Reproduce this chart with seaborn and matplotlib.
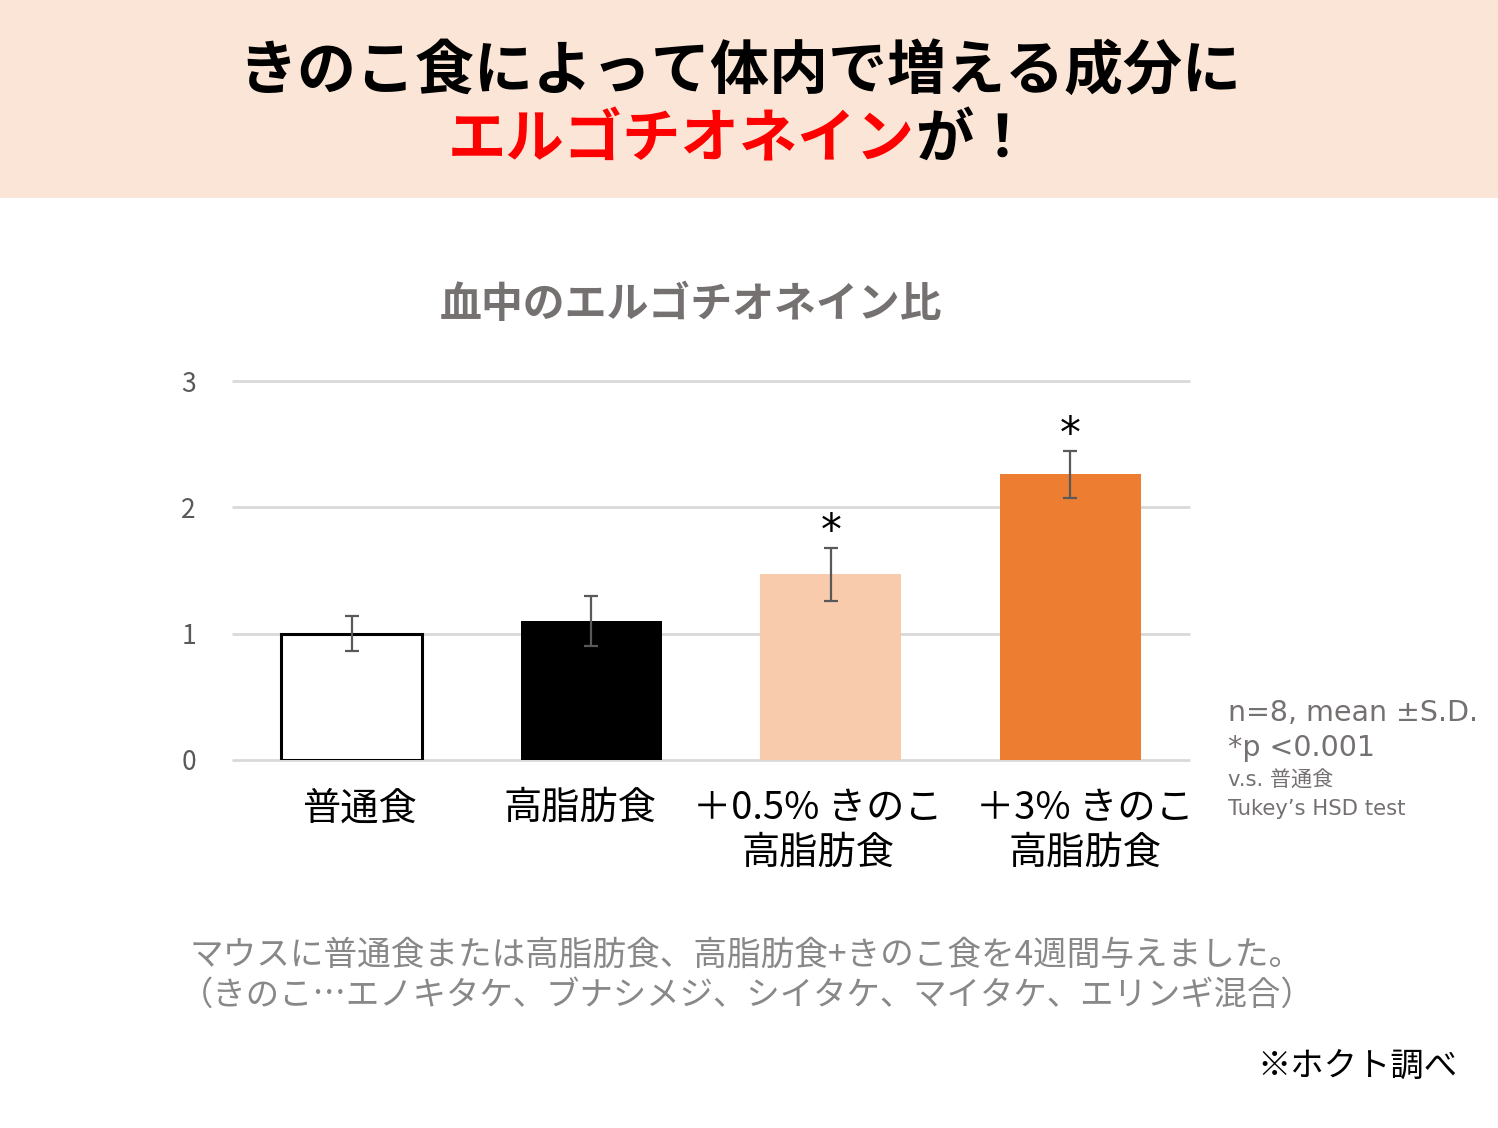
import matplotlib
matplotlib.use("Agg")
import matplotlib.pyplot as plt
import matplotlib.transforms as mtransforms
import seaborn as sns
import pandas as pd
from matplotlib.patches import Rectangle

# ---- data ----
groups = ["普通食", "高脂肪食", "+0.5%きのこ高脂肪食", "+3%きのこ高脂肪食"]
tick_labels = ["普通食", "高脂肪食", "＋0.5% きのこ\n高脂肪食", "＋3% きのこ\n高脂肪食"]
means = [1.00, 1.10, 1.47, 2.26]
sds = [0.14, 0.20, 0.21, 0.185]
significant = [False, False, True, True]
bar_colors = ["#FFFFFF", "#000000", "#F8CBAD", "#ED7D31"]
y_ticks = [0, 1, 2, 3]

title_line1 = "きのこ食によって体内で増える成分に"
title_red = "エルゴチオネイン"
title_black = "が！"
chart_title = "血中のエルゴチオネイン比"
note_lines = ["n=8, mean ±S.D.", "*p <0.001", "v.s. 普通食", "Tukey’s HSD test"]
caption1 = "マウスに普通食または高脂肪食、高脂肪食+きのこ食を4週間与えました。"
caption2 = "（きのこ…エノキタケ、ブナシメジ、シイタケ、マイタケ、エリンギ混合）"
source = "※ホクト調べ"

sns.set_theme(style="white")
plt.rcParams['font.family'] = ['Noto Sans CJK JP', 'DejaVu Sans']

W, H = 1498, 1128
fig = plt.figure(figsize=(W / 100, H / 100), dpi=100)
fig.patch.set_facecolor("white")

def fx(px):
    return px / W

def fy(py):
    return 1 - py / H

# header band
fig.patches.append(Rectangle((0, fy(198)), 1, 198 / H, transform=fig.transFigure,
                             facecolor="#FBE5D6", edgecolor="none", zorder=0))

fig.text(fx(740), fy(72), title_line1, ha="center", va="center", fontsize=42.5,
         fontweight="bold", color="black")
fig.text(fx(915), fy(140), title_red, ha="right", va="center", fontsize=42,
         fontweight="bold", color="#FF0000")
fig.text(fx(915), fy(140), title_black, ha="left", va="center", fontsize=42,
         fontweight="bold", color="black")

fig.text(fx(691), fy(305), chart_title, ha="center", va="center", fontsize=30.2,
         fontweight="bold", color="#767171")

# axes
ax = fig.add_axes([fx(232), fy(760), fx(1190) - fx(232), (760 - 381) / H])
df = pd.DataFrame({"group": groups, "value": means})
sns.barplot(data=df, x="group", y="value", hue="group", palette=bar_colors,
            order=groups, hue_order=groups, errorbar=None, width=0.59,
            legend=False, ax=ax, zorder=3, saturation=1)
ax.patches[0].set_edgecolor("black")
ax.patches[0].set_linewidth(2.2)
for p in ax.patches[1:]:
    p.set_edgecolor("none")

ax.errorbar(x=list(range(len(groups))), y=means, yerr=sds, fmt="none",
            ecolor="#595959", elinewidth=1.6, capsize=5, capthick=1.6, zorder=4)

for i, (m, s, sig) in enumerate(zip(means, sds, significant)):
    if sig:
        ax.text(i, m + s + 0.128, "*", ha="center", va="center", fontsize=30,
                color="black", family=['DejaVu Sans'])

ax.set_xlim(-0.5, len(groups) - 0.5)
ax.set_ylim(0, 3)
ax.set_yticks(y_ticks)
ax.set_yticklabels([str(t) for t in y_ticks])
ax.set_xticks(range(len(groups)))
ax.set_xticklabels(tick_labels)
ax.hlines(y_ticks, -0.5, len(groups) - 0.5, colors="#D9D9D9", linewidth=2,
          zorder=1, clip_on=False)
for sp in ax.spines.values():
    sp.set_visible(False)
ax.tick_params(axis="y", length=0, pad=26, labelsize=19, labelcolor="#595959")
ax.tick_params(axis="x", length=0, pad=21, labelsize=27.5, labelcolor="black")
label_shift_px = [8, -11, -13, 15]
for lbl, dx in zip(ax.get_xticklabels(), label_shift_px):
    lbl.set_linespacing(1.2)
    lbl.set_transform(lbl.get_transform() +
                      mtransforms.ScaledTranslation(dx / 100, 0, fig.dpi_scale_trans))
ax.set_xlabel("")
ax.set_ylabel("")
ax.set_facecolor("none")

# notes
note_font = ['DejaVu Sans', 'Noto Sans CJK JP']
fig.text(fx(1228), fy(713), note_lines[0], ha="left", va="center", fontsize=20.5,
         color="#767171", family=note_font)
fig.text(fx(1228), fy(748), note_lines[1], ha="left", va="center", fontsize=20.5,
         color="#767171", family=note_font)
fig.text(fx(1228), fy(781), note_lines[2], ha="left", va="center", fontsize=15.2,
         color="#767171", family=note_font)
fig.text(fx(1228), fy(809), note_lines[3], ha="left", va="center", fontsize=15.2,
         color="#767171", family=note_font)

fig.text(fx(190), fy(955), caption1, ha="left", va="center", fontsize=24.2, color="#888888")
fig.text(fx(180), fy(995), caption2, ha="left", va="center", fontsize=24.0, color="#888888")

fig.text(fx(1457), fy(1066), source, ha="right", va="center", fontsize=24, color="black")

fig.savefig("out.png", dpi=100, facecolor="white")
